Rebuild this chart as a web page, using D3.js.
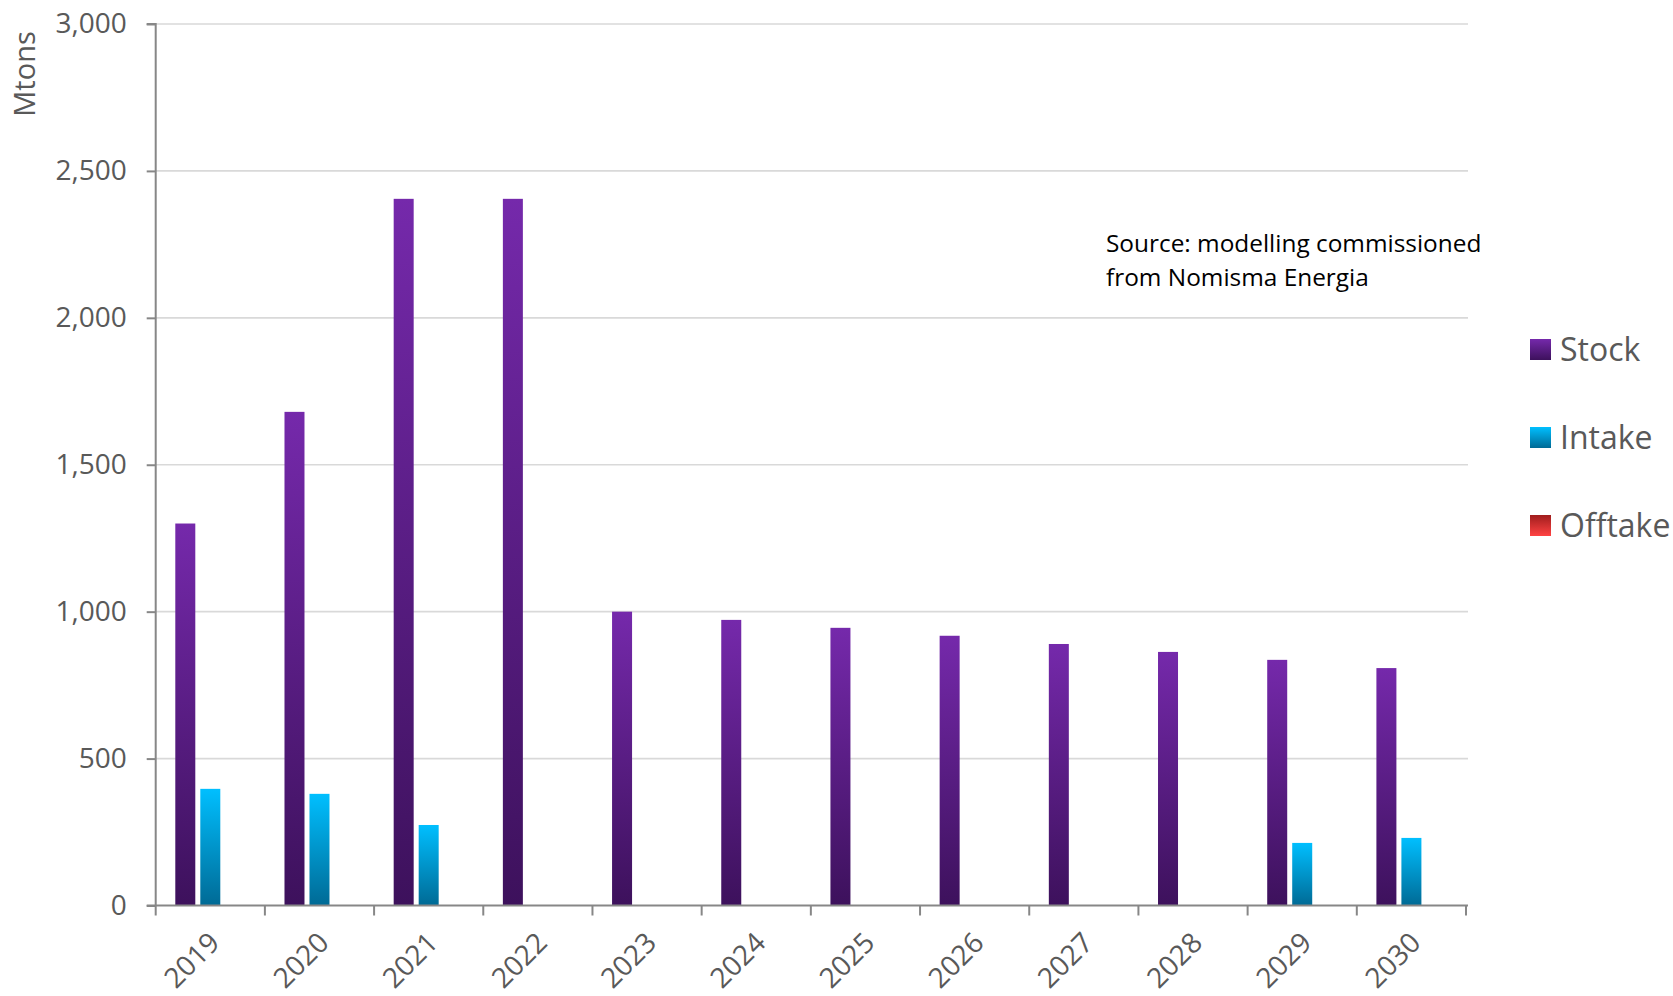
<!DOCTYPE html>
<html><head><meta charset="utf-8">
<script src="https://cdn.jsdelivr.net/npm/d3@7"></script>
<style>
html,body{margin:0;padding:0;background:#fff;}
svg{display:block;font-family:"Open Sans",sans-serif;}
</style></head>
<body>
<svg id="chart" width="1673" height="996"></svg>
<script>
const years = ["2019","2020","2021","2022","2023","2024","2025","2026","2027","2028","2029","2030"];
const seriesNames = ["Stock","Intake","Offtake"];
const stock   = [1300,1680,2405,2405,1000,972,945,918,890,863,836,808];
const intake  = [397,380,274,0,0,0,0,0,0,0,213,230];
const offtake = [0,0,0,0,0,0,0,0,0,0,0,0];
const yTicks = [0,500,1000,1500,2000,2500,3000];
const yLabel = "Mtons";
const sourceLines = ["Source: modelling commissioned","from Nomisma Energia"];

(function(){
const seriesData = [stock, intake, offtake];
const gradients = [
  {id:"gStock", top:"#7529ab", bottom:"#3d115c"},
  {id:"gIntake", top:"#00bfff", bottom:"#006a95"},
  {id:"gOfftake", top:"#a01d1d", bottom:"#ff4343"}
];

const svg = d3.select("#chart");
const defs = svg.append("defs");
gradients.forEach(g=>{
  const lg = defs.append("linearGradient").attr("id",g.id).attr("x1",0).attr("y1",0).attr("x2",0).attr("y2",1);
  lg.append("stop").attr("offset","0%").attr("stop-color",g.top);
  lg.append("stop").attr("offset","100%").attr("stop-color",g.bottom);
});

const pL = 155.7, pR = 1466, pT = 24, pB = 905.5;
const x0 = d3.scaleBand().domain(years).range([pL,pR]).paddingInner(0).paddingOuter(0);
const groupW = 70;
const x1 = d3.scaleBand().domain(seriesNames).range([0,groupW]).paddingInner(0.2).paddingOuter(0);
const y = d3.scaleLinear().domain([0,3000]).range([pB,pT]);

// gridlines
svg.append("g").selectAll("line").data(yTicks.filter(d=>d>0)).join("line")
  .attr("x1",pL).attr("x2",pR+2)
  .attr("y1",d=>y(d)).attr("y2",d=>y(d))
  .attr("stroke","#d9d9d9").attr("stroke-width",1.6);

// bars
const off = (x0.bandwidth()-groupW)/2;
seriesNames.forEach((s,si)=>{
  svg.append("g").selectAll("rect").data(years.map((yr,i)=>({yr,v:seriesData[si][i]}))).join("rect")
    .attr("x",d=>x0(d.yr)+off+x1(s))
    .attr("width",x1.bandwidth())
    .attr("y",d=>y(d.v))
    .attr("height",d=>pB-y(d.v))
    .attr("fill",`url(#${gradients[si].id})`);
});

// y axis
const yAxis = d3.axisLeft(y).tickValues(yTicks).tickFormat(d3.format(",")).tickSize(9).tickPadding(20);
const gy = svg.append("g").attr("transform",`translate(${pL},0)`).call(yAxis);
gy.select(".domain").attr("stroke","#878787").attr("stroke-width",2).attr("d",`M-9,${pT}H0V${pB}`);
gy.selectAll(".tick line").attr("stroke","#878787").attr("stroke-width",2);
gy.selectAll(".tick text").attr("fill","#595959").attr("font-size",28).attr("font-family","Open Sans");

// x axis
const xAxis = d3.axisBottom(x0).tickSize(0).tickFormat("");
const gx = svg.append("g").attr("transform",`translate(0,${pB})`).call(xAxis);
gx.select(".domain").attr("stroke","#878787").attr("stroke-width",2).attr("d",`M${pL-9},0H${pR+2}`);
gx.selectAll(".tick").remove();
const tickPos = years.map(yr=>x0(yr)).concat([pR]);
gx.selectAll("line.xt").data(tickPos).join("line").attr("class","xt")
  .attr("x1",d=>d).attr("x2",d=>d).attr("y1",0).attr("y2",10)
  .attr("stroke","#878787").attr("stroke-width",2);

// x labels
svg.append("g").selectAll("text").data(years).join("text")
  .attr("transform",d=>`translate(${x0(d)+x0.bandwidth()/2+11},${pB+39}) rotate(-45)`)
  .attr("text-anchor","end")
  .attr("fill","#595959").attr("font-size",28)
  .text(d=>d);

// y label
svg.append("text").attr("transform",`translate(35,74) rotate(-90)`)
  .attr("text-anchor","middle").attr("fill","#595959").attr("font-size",29).text(yLabel);

// source
svg.append("g").selectAll("text").data(sourceLines).join("text")
  .attr("x",1106).attr("y",(d,i)=>252+i*34)
  .attr("fill","#000").attr("font-size",24.4).text(d=>d);

// legend
const lg = svg.append("g");
seriesNames.forEach((s,i)=>{
  const yy = 339 + i*88;
  lg.append("rect").attr("x",1530).attr("y",yy).attr("width",21).attr("height",21).attr("fill",`url(#${gradients[i].id})`);
  lg.append("text").attr("x",1560).attr("y",yy+22).attr("fill","#595959").attr("font-size",32).text(s);
});
})();
</script>
</body></html>
